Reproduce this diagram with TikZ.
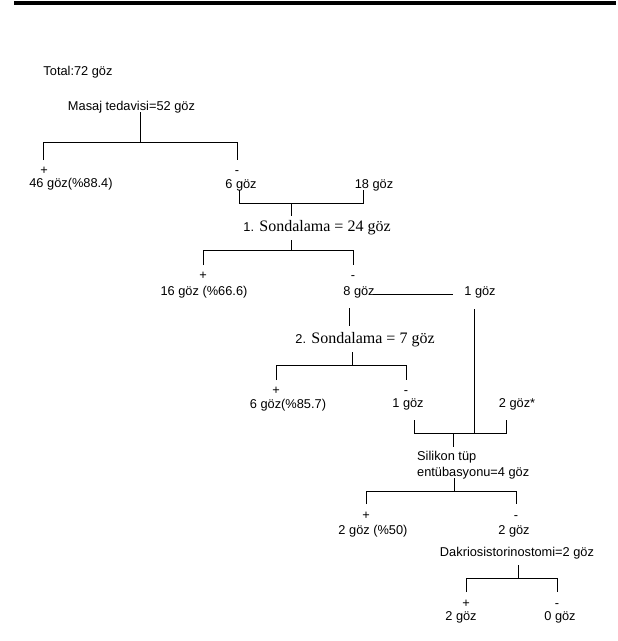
\documentclass[tikz,border=0pt]{standalone}
\usepackage{fontspec}
\setmainfont{Liberation Sans}
\newfontfamily\tms{Liberation Serif}
\usetikzlibrary{positioning}

\begin{document}
\begin{tikzpicture}[
  x=1pt,y=-1pt,
  txt/.style  ={font=\fontsize{12.8}{16}\selectfont,inner sep=0pt},
  sond/.style ={font=\fontsize{16}{18}\selectfont\tms,inner sep=0pt},
  sgn/.style  ={font=\fontsize{12.8}{16}\selectfont,inner sep=0pt,text height=8pt,text depth=0pt},
  tree/.style ={draw=black,line width=0.8pt}]
\useasboundingbox (0,0) rectangle (618,641);
% --- page rule ---
\fill[black] (14,1) rectangle (616,5);
% --- first level: massage ---
\node[txt] (total) at (78,72) {Total:72 göz};
\node[txt] (masaj) at (131.5,107) {Masaj tedavisi=52 göz};
\node[sgn] (pA) at (44,170) {+};
\node[sgn] (mA) at (237,170) {-};
\node[txt] (n46) at (71,184) {46 göz(\%88.4)};
\node[txt] (n6) at (241,185) {6 göz};
\node[txt] (n18) at (374,185) {18 göz};
% --- 1. probing ---
\node[sond] (sond1) at (317,228) {{\fontsize{12.8}{16}\selectfont\rmfamily 1.} Sondalama = 24 göz};
\node[sgn] (pB) at (203,275) {+};
\node[sgn] (mB) at (353,275) {-};
\node[txt] (n16) at (204,292) {16 göz (\%66.6)};
\node[txt] (n8) at (359,292) {8 göz};
\node[txt] (n1a) at (480,292) {1 göz};
% --- 2. probing ---
\node[sond] (sond2) at (365,340) {{\fontsize{12.8}{16}\selectfont\rmfamily 2.} Sondalama = 7 göz};
\node[sgn] (pC) at (276,390) {+};
\node[sgn] (mC) at (406,390) {-};
\node[txt] (n6b) at (288,405) {6 göz(\%85.7)};
\node[txt] (n1b) at (408,404) {1 göz};
\node[txt] (n2s) at (517,404) {2 göz*};
% --- silicone tube ---
\node[txt,align=left,anchor=west] (sil) at (417,465) {Silikon tüp\\entübasyonu=4 göz};
\node[sgn] (pD) at (366,515) {+};
\node[sgn] (mD) at (516,515) {-};
\node[txt] (n2a) at (373,531) {2 göz (\%50)};
\node[txt] (n2b) at (514,531) {2 göz};
% --- DCR ---
\node[txt] (dakr) at (517,553) {Dakriosistorinostomi=2 göz};
\node[sgn] (pE) at (466,603) {+};
\node[sgn] (mE) at (557,603) {-};
\node[txt] (n2c) at (461,617) {2 göz};
\node[txt] (n0) at (560,617) {0 göz};
% --- bracket corners ---
\coordinate (sA) at (140,112);  \coordinate (jA) at (140,142);
\coordinate (lA) at (43,160);   \coordinate (rA) at (237,160);
\coordinate (uB1) at (239,190); \coordinate (uB2) at (363,190);
\coordinate (jB) at (291,203);  \coordinate (sB) at (291,216);
\coordinate (s1) at (291,240);  \coordinate (j1) at (291,250);
\coordinate (l1) at (203,265);  \coordinate (r1) at (353,265);
\coordinate (h8) at (373,294);  \coordinate (h1) at (453,294);
\coordinate (v1) at (474,309);  \coordinate (v8) at (349,308);
\coordinate (e8) at (349,326);
\coordinate (s2) at (352,352);  \coordinate (j2) at (352,365);
\coordinate (l2) at (276,380);  \coordinate (r2) at (406,380);
\coordinate (uC1) at (414,420); \coordinate (uC2) at (506,420);
\coordinate (jC) at (453,433);  \coordinate (sC) at (453,447);
\coordinate (s3) at (454,478);  \coordinate (j3) at (454,491);
\coordinate (l3) at (366,504);  \coordinate (r3) at (516,504);
\coordinate (s4) at (518,565);  \coordinate (j4) at (518,578);
\coordinate (l4) at (466,592);  \coordinate (r4) at (557,592);
% --- connectors ---
\draw[tree] (sA) -- (jA);
\draw[tree] (lA) -- (lA |- jA) -- (rA |- jA) -- (rA);
\draw[tree] (uB1) -- (uB1 |- jB) -- (uB2 |- jB) -- (uB2);
\draw[tree] (jB) -- (sB);
\draw[tree] (s1) -- (j1);
\draw[tree] (l1) -- (l1 |- j1) -- (r1 |- j1) -- (r1);
\draw[tree] (h8) -- (h1);
\draw[tree] (v8) -- (e8);
\draw[tree] (v1) -- (v1 |- jC);
\draw[tree] (s2) -- (j2);
\draw[tree] (l2) -- (l2 |- j2) -- (r2 |- j2) -- (r2);
\draw[tree] (uC1) -- (uC1 |- jC) -- (uC2 |- jC) -- (uC2);
\draw[tree] (jC) -- (sC);
\draw[tree] (s3) -- (j3);
\draw[tree] (l3) -- (l3 |- j3) -- (r3 |- j3) -- (r3);
\draw[tree] (s4) -- (j4);
\draw[tree] (l4) -- (l4 |- j4) -- (r4 |- j4) -- (r4);
\end{tikzpicture}
\end{document}
